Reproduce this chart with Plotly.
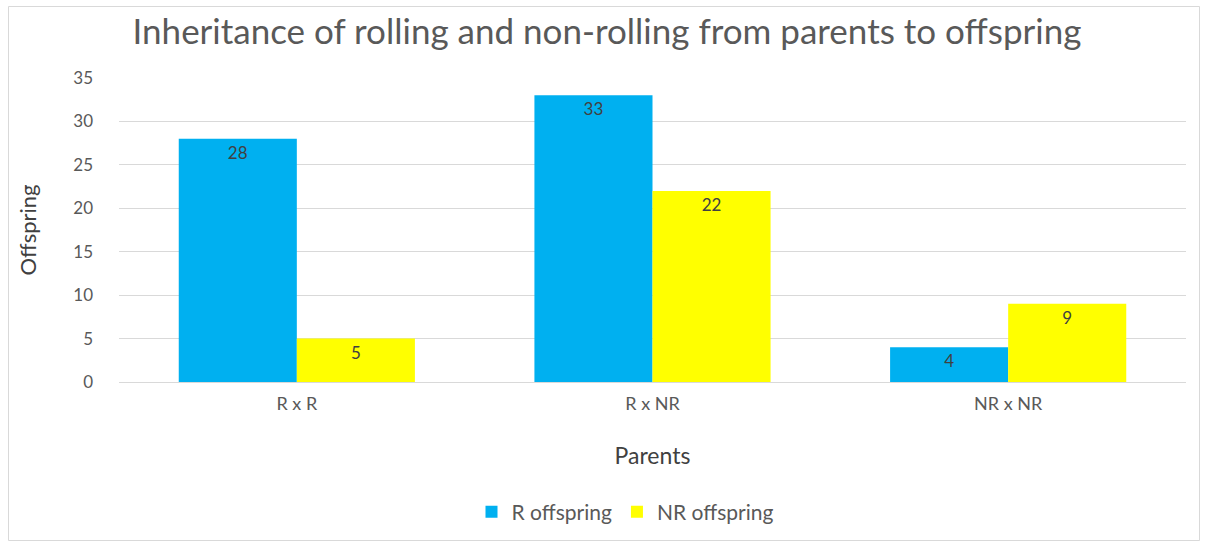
import plotly.graph_objects as go

# Crosses of parents and the offspring counts they produced
parents = ["R x R", "R x NR", "NR x NR"]
r_offspring = [28, 33, 4]
nr_offspring = [5, 22, 9]

FONT = "Lato, Carlito, Calibri, sans-serif"
GREY = "#595959"

fig = go.Figure()
fig.add_trace(go.Bar(
    name="R offspring", x=parents, y=r_offspring,
    marker=dict(color="#00b0f0", line=dict(width=0)),
    text=r_offspring, textposition="inside", insidetextanchor="end",
    textfont=dict(family=FONT, size=17, color="#404040"),
))
fig.add_trace(go.Bar(
    name="NR offspring", x=parents, y=nr_offspring,
    marker=dict(color="#ffff00", line=dict(width=0)),
    text=nr_offspring, textposition="inside", insidetextanchor="end",
    textfont=dict(family=FONT, size=17, color="#404040"),
))

W, H = 1209, 546
ml, mr, mt, mb = 119, 23, 78, 164
pw, ph = W - ml - mr, H - mt - mb


def px_x(p):
    return (p - ml) / pw


def px_y(p):
    return (H - mb - p) / ph


fig.update_layout(
    width=W, height=H,
    margin=dict(l=ml, r=mr, t=mt, b=mb),
    paper_bgcolor="white", plot_bgcolor="white",
    font=dict(family=FONT, color=GREY),
    barmode="group", bargap=0.336, bargroupgap=0,
    title=dict(
        text="Inheritance of rolling and non-rolling from parents to offspring",
        font=dict(family=FONT, size=35, color=GREY),
        x=px_x(607), xref="paper", xanchor="center",
        y=1 - 32 / H, yref="container", yanchor="middle",
    ),
    xaxis=dict(
        showgrid=False, showline=False, zeroline=False,
        tickfont=dict(size=18, color=GREY),
        ticklabelstandoff=9,
        title=dict(text="Parents", font=dict(size=23, color="#404040"), standoff=34),
    ),
    yaxis=dict(
        range=[0, 35], dtick=5,
        showgrid=True, gridcolor="#d9d9d9", gridwidth=1,
        zeroline=True, zerolinecolor="#d9d9d9", zerolinewidth=1,
        showline=False,
        tickfont=dict(size=17, color=GREY),
        ticklabelstandoff=25,
        title=dict(text="Offspring", font=dict(size=22, color="#404040"), standoff=30),
    ),
    legend=dict(
        orientation="h", x=px_x(625), xanchor="center",
        y=px_y(512), yanchor="middle",
        font=dict(size=21, color=GREY),
        itemclick=False, traceorder="normal",
    ),
    shapes=[dict(
        type="rect", xref="paper", yref="paper",
        x0=px_x(8.5), x1=px_x(1199.5), y0=px_y(540.5), y1=px_y(6.5),
        line=dict(color="#d9d9d9", width=1), fillcolor="rgba(0,0,0,0)",
        layer="below",
    )],
)

fig.write_html("out.html")
